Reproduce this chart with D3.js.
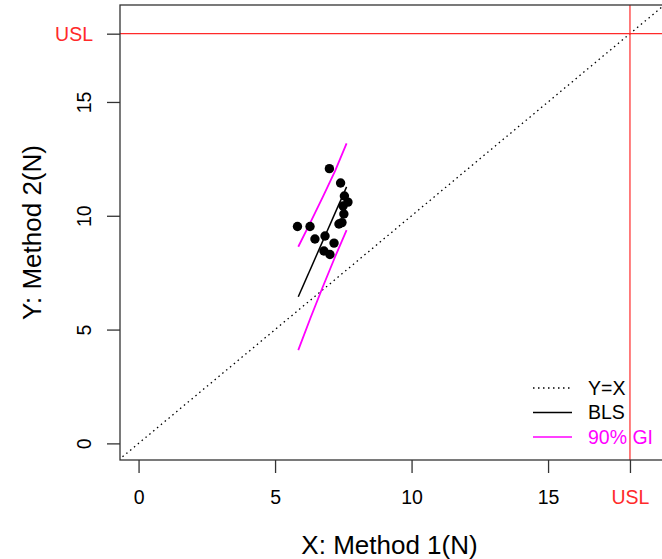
<!DOCTYPE html>
<html>
<head>
<meta charset="utf-8">
<script src="https://cdn.jsdelivr.net/npm/d3@7"></script>
<style>
  html, body { margin: 0; padding: 0; background: #fff; }
  svg { display: block; font-family: "Liberation Sans", Arial, sans-serif; }
</style>
</head>
<body>
<svg id="chart" width="662" height="559"></svg>
<script>
// Paired measurements: Method 1 (x) vs Method 2 (y)
const methodX = [6.99, 7.40, 7.54, 7.67, 7.49, 7.52, 7.34, 7.45, 5.82, 6.28, 6.46, 6.83, 7.16, 6.79, 7.01];
const methodY = [12.07, 11.44, 10.87, 10.60, 10.43, 10.08, 9.64, 9.70, 9.53, 9.53, 8.98, 9.11, 8.80, 8.45, 8.30];

// Bivariate least squares fit line (endpoints over data range)
const blsX = [5.85, 7.62];
const blsY = [6.44, 11.27];

// 90% confidence band around the BLS line
const giX = [5.85, 6.3, 6.75, 7.2, 7.62];
const giUpper = [8.64, 9.72, 10.83, 11.97, 13.18];
const giLower = [4.10, 5.52, 6.88, 8.20, 9.37];

// Specification limit
const USL = 18;

// Axis ticks
const tickValues = [0, 5, 10, 15];

const legendLabels = ["Y=X", "BLS", "90% GI"];
const legendColors = ["#000000", "#000000", "#ff00ff"];
const legendDash = ["1.5,3.5", null, null];

const svg = d3.select("#chart");
const plot = { left: 120, right: 663, top: 5, bottom: 460 };

const x = d3.scaleLinear().domain([-0.68, 19.21]).range([plot.left, plot.right]);
const y = d3.scaleLinear().domain([-0.73, 19.26]).range([plot.bottom, plot.top]);

svg.append("defs").append("clipPath").attr("id", "clip")
  .append("rect")
  .attr("x", plot.left).attr("y", plot.top)
  .attr("width", plot.right - plot.left).attr("height", plot.bottom - plot.top);

const inner = svg.append("g").attr("clip-path", "url(#clip)");

// Y = X reference line
const lo = Math.min(x.domain()[0], y.domain()[0]);
const hi = Math.max(x.domain()[1], y.domain()[1]);
inner.append("line")
  .attr("x1", x(lo)).attr("y1", y(lo))
  .attr("x2", x(hi)).attr("y2", y(hi))
  .attr("stroke", "#000").attr("stroke-width", 1.3)
  .attr("stroke-dasharray", "1.5,3.5");

// USL lines
inner.append("line")
  .attr("x1", plot.left).attr("x2", plot.right)
  .attr("y1", y(USL)).attr("y2", y(USL))
  .attr("stroke", "#ff2a2a").attr("stroke-width", 1.2);
inner.append("line")
  .attr("x1", x(USL)).attr("x2", x(USL))
  .attr("y1", plot.top).attr("y2", plot.bottom)
  .attr("stroke", "#ff2a2a").attr("stroke-width", 1.2);

// Confidence band
const line = d3.line().x(d => x(d[0])).y(d => y(d[1]));
inner.append("path")
  .datum(giX.map((v, i) => [v, giUpper[i]]))
  .attr("d", line).attr("fill", "none")
  .attr("stroke", "#ff00ff").attr("stroke-width", 1.8);
inner.append("path")
  .datum(giX.map((v, i) => [v, giLower[i]]))
  .attr("d", line).attr("fill", "none")
  .attr("stroke", "#ff00ff").attr("stroke-width", 1.8);

// BLS line
inner.append("path")
  .datum(blsX.map((v, i) => [v, blsY[i]]))
  .attr("d", line).attr("fill", "none")
  .attr("stroke", "#000").attr("stroke-width", 1.5);

// Points
inner.selectAll("circle.pt")
  .data(methodX.map((v, i) => [v, methodY[i]]))
  .join("circle")
  .attr("class", "pt")
  .attr("cx", d => x(d[0])).attr("cy", d => y(d[1]))
  .attr("r", 4.7).attr("fill", "#000");

// Plot frame
svg.append("rect")
  .attr("x", plot.left).attr("y", plot.top)
  .attr("width", plot.right - plot.left).attr("height", plot.bottom - plot.top)
  .attr("fill", "none").attr("stroke", "#333").attr("stroke-width", 1.3);

// X axis
const xAxis = svg.append("g")
  .attr("transform", `translate(0,${plot.bottom})`)
  .call(d3.axisBottom(x).tickValues(tickValues.concat([USL])).tickSize(13).tickPadding(0).tickFormat(d => d === USL ? "USL" : d));
xAxis.select(".domain").remove();
xAxis.selectAll(".tick line").attr("stroke", "#333").attr("stroke-width", 1.3);
xAxis.selectAll(".tick text")
  .attr("y", 37).attr("dy", "0.35em")
  .attr("font-size", 19.5).attr("fill", d => d === USL ? "#ff2a2a" : "#000");

// Y axis
const yAxis = svg.append("g")
  .attr("transform", `translate(${plot.left},0)`)
  .call(d3.axisLeft(y).tickValues(tickValues.concat([USL])).tickSize(13).tickPadding(0).tickFormat(d => d === USL ? "USL" : d));
yAxis.select(".domain").remove();
yAxis.selectAll(".tick line").attr("stroke", "#333").attr("stroke-width", 1.3);
yAxis.selectAll(".tick text")
  .attr("font-size", 19.5)
  .attr("fill", d => d === USL ? "#ff2a2a" : "#000")
  .each(function(d) {
    const t = d3.select(this);
    if (d === USL) {
      t.attr("x", -27).attr("dy", "0.35em").attr("text-anchor", "end");
    } else {
      t.attr("x", 0).attr("dy", "0.35em")
        .attr("text-anchor", "middle")
        .attr("transform", "translate(-36,0) rotate(-90)");
    }
  });

// Axis titles
svg.append("text")
  .attr("x", (plot.left + plot.right) / 2 - 2).attr("y", 545).attr("dy", "0.35em")
  .attr("text-anchor", "middle").attr("font-size", 26)
  .text("X: Method 1(N)");
svg.append("text")
  .attr("transform", `translate(32,${(plot.top + plot.bottom) / 2}) rotate(-90)`)
  .attr("dy", "0.35em")
  .attr("text-anchor", "middle").attr("font-size", 26)
  .text("Y: Method 2(N)");

// Legend
const legend = svg.append("g").attr("transform", "translate(533,388)");
legendLabels.forEach((lab, i) => {
  const g = legend.append("g").attr("transform", `translate(0,${i * 24.5})`);
  g.append("line").attr("x1", 0).attr("x2", 39).attr("y1", 0).attr("y2", 0)
    .attr("stroke", legendColors[i]).attr("stroke-width", i === 0 ? 1.3 : 1.5)
    .attr("stroke-dasharray", legendDash[i]);
  g.append("text").attr("x", 55).attr("dy", "0.35em")
    .attr("font-size", 19.5).attr("fill", legendColors[i])
    .text(lab);
});
</script>
</body>
</html>
